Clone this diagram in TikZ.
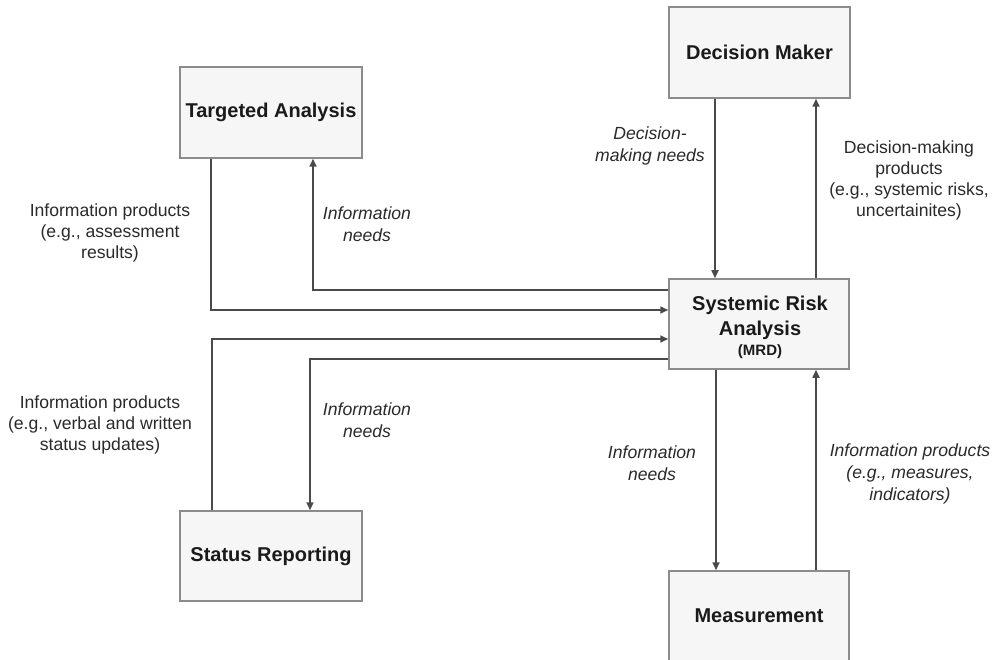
\documentclass[tikz,border=0pt]{standalone}
\usepackage{fontspec}
\setmainfont{Liberation Sans}
\usetikzlibrary{arrows.meta}
\definecolor{boxfill}{HTML}{F6F6F6}
\definecolor{boxline}{HTML}{8C8C8C}
\definecolor{conn}{HTML}{4A4A4A}
\definecolor{txt}{HTML}{1A1A1A}
\definecolor{lbl}{HTML}{2A2A2A}
\tikzset{
  blk/.style={draw=boxline, fill=boxfill, line width=1.5pt, rectangle, inner sep=0pt,
    font=\fontsize{20}{24}\selectfont\bfseries, text=txt, align=center},
  arr/.style={draw=conn, line width=1.6pt, -{Triangle[length=8pt,width=7pt]}},
  lab/.style={align=center, text=lbl, inner sep=0pt, font=\fontsize{17.6}{21}\selectfont},
  ilab/.style={lab, font=\fontsize{17.6}{22}\selectfont\itshape}
}
\begin{document}
\begin{tikzpicture}[x=1pt,y=-1pt]
\useasboundingbox (0,0) rectangle (993,660);
\clip (0,0) rectangle (993,660);
\fill[white] (0,0) rectangle (993,660);
% boxes
\node[blk, minimum width=182pt, minimum height=91pt] (TA) at (271,112.5) {Targeted Analysis};
\node[blk, minimum width=181pt, minimum height=91pt] (DM) at (759.5,52.5) {Decision Maker};
\node[blk, minimum width=180pt, minimum height=90pt] (SRA) at (759,324) {};
\node[blk, minimum width=182pt, minimum height=90pt] (SR) at (271,556) {Status Reporting};
\node[blk, minimum width=180pt, minimum height=90pt] (M) at (759,616) {Measurement};
\node[align=center, inner sep=0pt, text=txt, font=\fontsize{20}{25}\selectfont\bfseries] (SRAt) at (760,318) {Systemic Risk\\Analysis};
\node[inner sep=0pt, text=txt, font=\fontsize{15}{18}\selectfont\bfseries] (SRAm) at (760,352) {(MRD)};
% connectors
\draw[arr] (TA.south -| 211,0) |- (SRA.west |- 0,310);
\draw[arr] (SRA.west |- 0,290) -| (TA.south -| 313,0);
\draw[arr] (SR.north -| 212,0) |- (SRA.west |- 0,339);
\draw[arr] (SRA.west |- 0,359) -| (SR.north -| 310,0);
\draw[arr] (DM.south -| 715,0) -- (SRA.north -| 715,0);
\draw[arr] (SRA.north -| 816,0) -- (DM.south -| 816,0);
\draw[arr] (SRA.south -| 716,0) -- (M.north -| 716,0);
\draw[arr] (M.north -| 816,0) -- (SRA.south -| 816,0);
% labels
\node[lab] (l1) at (110,233) {Information products\\(e.g., assessment\\results)};
\node[ilab] (l2) at (367,224) {Information\\needs};
\node[ilab] (l3) at (650,146) {Decision-\\making needs};
\node[lab] (l4) at (909,180) {Decision-making\\products\\(e.g., systemic risks,\\uncertainites)};
\node[lab] (l5) at (100,425) {Information products\\(e.g., verbal and written\\status updates)};
\node[ilab] (l6) at (367,420) {Information\\needs};
\node[ilab] (l7) at (652,463) {Information\\needs};
\node[ilab] (l8) at (910,474) {Information products\\(e.g., measures,\\indicators)};
\end{tikzpicture}
\end{document}
